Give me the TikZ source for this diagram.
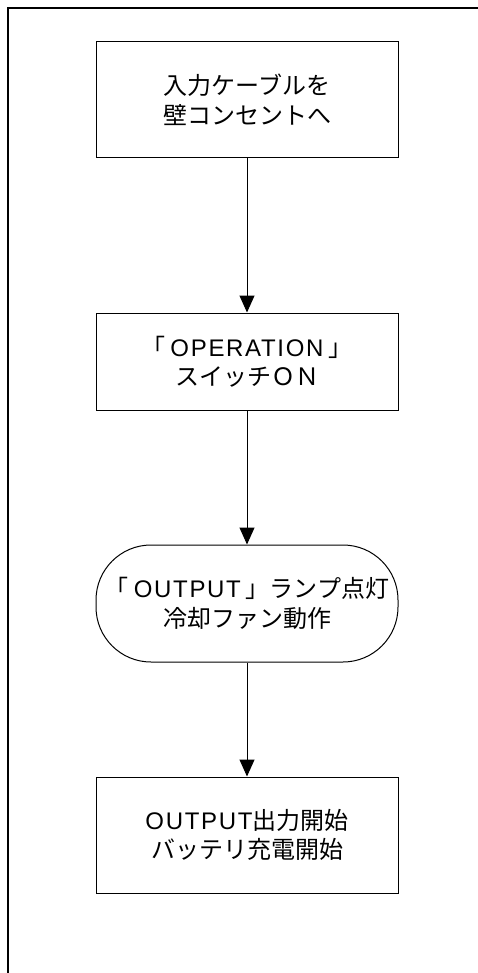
\documentclass[tikz,border=0pt]{standalone}
\usepackage{fontspec}
\setmainfont{Noto Sans CJK JP}
\newfontfamily\lat[LetterSpace=7]{Liberation Sans}
\usetikzlibrary{arrows.meta}

\begin{document}
\begin{tikzpicture}[x=1pt,y=-1pt,
  box/.style={draw,line width=1pt,minimum width=302pt,minimum height=116pt,align=center,inner sep=0pt,font=\fontsize{24}{29.5}\selectfont},
  term/.style={box,rounded corners=55pt},
  arr/.style={-{Triangle[length=17pt,width=15pt]},line width=1pt}]
\useasboundingbox (0,0) rectangle (477,973);
\draw[line width=2pt] (8,8) rectangle (500,1000);

\node[box] (a) at (247,100) {入力ケーブルを\\壁コンセントへ};
\node[box,minimum height=97pt] (b) at (247,361.5) {「\hspace{5pt}{\lat OPERATION}\hspace{5pt}」\\スイッチＯＮ};
\node[term,minimum height=117pt] (c) at (247,603.5) {「\hspace{5pt}{\lat OUTPUT}\hspace{5pt}」ランプ点灯\\冷却ファン動作};
\node[box] (d) at (247,835) {{\lat OUTPUT}出力開始\\バッテリ充電開始};

\draw[arr] (a) -- (b);
\draw[arr] (b) -- (c);
\draw[arr] (c) -- (d);
\end{tikzpicture}
\end{document}
